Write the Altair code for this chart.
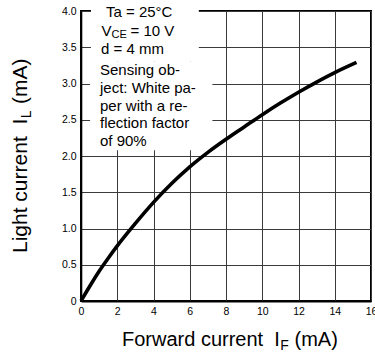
import altair as alt
import pandas as pd

# ---- data ----
forward_ma = [0, 0.5, 1, 1.5, 2, 3, 4, 5, 6, 7, 8, 9, 10, 11, 12, 13, 14, 15.2]
light_ma = [0, 0.21, 0.41, 0.59, 0.76, 1.07, 1.36, 1.62, 1.85, 2.05, 2.23, 2.40, 2.57, 2.73, 2.88, 3.02, 3.15, 3.29]
x_ticks = [0, 2, 4, 6, 8, 10, 12, 14, 16]
y_ticks = [0, 0.5, 1.0, 1.5, 2.0, 2.5, 3.0, 3.5, 4.0]
note_lines = ["Sensing ob-", "ject: White pa-", "per with a re-", "flection factor", "of 90%"]

FONT = "Liberation Sans"
W, H = 290, 290
NB = "\u00a0"

curve_df = pd.DataFrame({"fwd": forward_ma, "light": light_ma})

xs = alt.Scale(domain=[0, 16], nice=False, zero=False)
ys = alt.Scale(domain=[0, 4], nice=False, zero=False)

x_axis = alt.Axis(values=x_ticks, labelFlush=False, ticks=False, labelPadding=5,
                  domainColor="black", domainWidth=2, grid=True, gridColor="#3a3a3a",
                  gridWidth=1, labelFontSize=10.5, labelColor="black", labelFont=FONT, title=None)
y_axis = alt.Axis(values=y_ticks, labelFlush=False, ticks=False, labelPadding=5,
                  domainColor="black", domainWidth=1.6, grid=True, gridColor="#3a3a3a",
                  gridWidth=1, labelFontSize=10.5, labelColor="black", labelFont=FONT, title=None,
                  labelExpr="datum.value == 0 ? '0' : format(datum.value, '.1f')")

axes_layer = alt.Chart(curve_df).mark_point(opacity=0).encode(
    x=alt.X("fwd:Q", scale=xs, axis=x_axis),
    y=alt.Y("light:Q", scale=ys, axis=y_axis),
)

# white box behind the condition text (covers grid lines)
box_df = pd.DataFrame({"bx": [0.55, 0.5], "bx2": [6.5, 7.25], "by": [3.3, 2.08], "by2": [4.15, 3.3]})
box = alt.Chart(box_df).mark_rect(color="white").encode(
    x=alt.X("bx:Q", scale=xs, axis=x_axis), x2="bx2:Q",
    y=alt.Y("by:Q", scale=ys, axis=y_axis), y2="by2:Q",
)

curve = alt.Chart(curve_df).mark_line(color="black", strokeWidth=3.6, interpolate="monotone").encode(
    x=alt.X("fwd:Q", scale=xs, axis=x_axis),
    y=alt.Y("light:Q", scale=ys, axis=y_axis),
)

one = pd.DataFrame({"a": [0]})

def txt(text, x, y, size=15, align="left", baseline="middle", angle=0):
    kw = dict(text=text, font=FONT, fontSize=size, align=align, baseline=baseline, color="black")
    if angle:
        kw["angle"] = angle
    return alt.Chart(one).mark_text(**kw).encode(x=alt.value(x), y=alt.value(y))

layers = [axes_layer, box, curve]

# condition text
layers.append(txt("Ta = 25\u00b0C", 25, 1))
layers.append(txt("V", 20.5, 20))
layers.append(txt("CE", 30.5, 24, size=11))
layers.append(txt("= 10 V", 49.5, 20))
layers.append(txt("d = 4 mm", 20, 38))
for i, line in enumerate(note_lines):
    layers.append(txt(line, 19, 59 + i * 17.8))

# x title with subscript
xt_size = 20
x0 = 41
w1 = 7891 * xt_size / 1000
layers.append(txt("Forward current " + NB + "I", x0, 335, size=xt_size, baseline="alphabetic"))
layers.append(txt("F", x0 + w1 + 0.5, 339, size=14, baseline="alphabetic"))
layers.append(txt("(mA)", x0 + w1 + 0.5 + 8.6 + 5.6, 335, size=xt_size, baseline="alphabetic"))

# y title with subscript (rotated)
yt_size = 21
y0 = 242
h1 = (5558 + 834) * yt_size / 1000
layers.append(txt("Light current " + NB + "I", -54, y0, size=yt_size, baseline="alphabetic", angle=270))
layers.append(txt("L", -50, y0 - h1 - 0.5, size=14, baseline="alphabetic", angle=270))
layers.append(txt("(mA)", -54, y0 - h1 - 0.5 - 7.8 - 6.5, size=yt_size, baseline="alphabetic", angle=270))

chart = alt.layer(*layers).properties(
    width=W, height=H,
    background="white",
    autosize=alt.AutoSizeParams(type="none"),
    padding={"left": 81, "top": 11, "right": 4, "bottom": 52},
).configure_view(stroke="black", strokeWidth=2)

chart.save("out.html", embed_options={"renderer": "svg", "actions": False})
